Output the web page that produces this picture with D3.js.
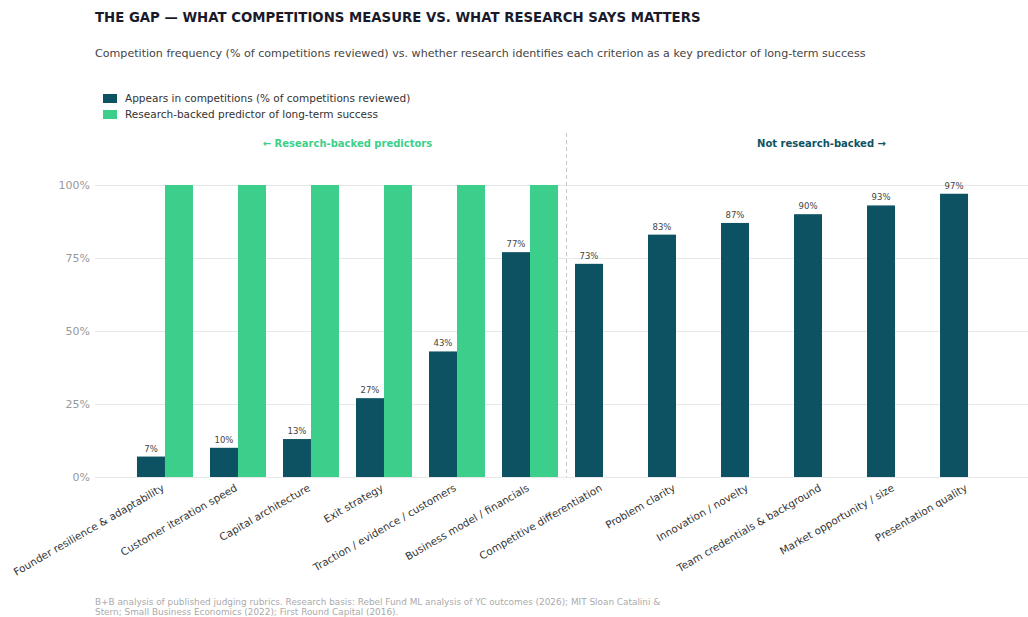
<!DOCTYPE html>
<html>
<head>
<meta charset="utf-8">
<title>The Gap</title>
<script src="https://d3js.org/d3.v7.min.js"></script>
<style>
  body { margin: 0; background: #fff; }
  svg { display: block; font-family: "DejaVu Sans", sans-serif; }
</style>
</head>
<body>
<div id="chart"></div>
<script>
// criteria, in display order
const criteria = [
  "Founder resilience & adaptability",
  "Customer iteration speed",
  "Capital architecture",
  "Exit strategy",
  "Traction / evidence / customers",
  "Business model / financials",
  "Competitive differentiation",
  "Problem clarity",
  "Innovation / novelty",
  "Team credentials & background",
  "Market opportunity / size",
  "Presentation quality"
];
// % of competitions that use the criterion
const competitionPct = [7, 10, 13, 27, 43, 77, 73, 83, 87, 90, 93, 97];
// research-backed predictor (100 = yes, 0 = no)
const researchPct = [100, 100, 100, 100, 100, 100, 0, 0, 0, 0, 0, 0];
const yTicks = [0, 25, 50, 75, 100];
const seriesNames = [
  "Appears in competitions (% of competitions reviewed)",
  "Research-backed predictor of long-term success"
];

const DARK = "#0d5262";
const GREEN = "#3bcf8b";

const width = 1028, height = 617;
const svg = d3.select("#chart").append("svg")
  .attr("width", width).attr("height", height);

const plotTop = 185, plotBottom = 477;
const x = d3.scaleBand().domain(criteria).range([95, 1038])
  .paddingInner(0.233).paddingOuter(0.575);
const sub = d3.scaleBand().domain(["comp", "res"]).range([0, x.bandwidth()]);
const y = d3.scaleLinear().domain([0, 100]).range([plotBottom, plotTop]);

// title + subtitle
svg.append("text").attr("x", 95).attr("y", 22)
  .attr("font-size", 13.3).attr("font-weight", "bold").attr("fill", "#1a1a2a")
  .text("THE GAP — WHAT COMPETITIONS MEASURE VS. WHAT RESEARCH SAYS MATTERS");
svg.append("text").attr("x", 95).attr("y", 57)
  .attr("font-size", 11.1).attr("fill", "#444")
  .text("Competition frequency (% of competitions reviewed) vs. whether research identifies each criterion as a key predictor of long-term success");

// legend
const legend = svg.append("g");
seriesNames.forEach((name, i) => {
  legend.append("rect").attr("x", 103).attr("y", 94 + i * 16)
    .attr("width", 14).attr("height", 9).attr("fill", i === 0 ? DARK : GREEN);
  legend.append("text").attr("x", 125).attr("y", 102 + i * 16)
    .attr("font-size", 10.5).attr("fill", "#333").text(name);
});

// gridlines + y axis
const yAxis = svg.append("g").attr("transform", "translate(95,0)")
  .call(d3.axisLeft(y).tickValues(yTicks).tickFormat(d => d + "%").tickSize(-933).tickPadding(5));
yAxis.select(".domain").remove();
yAxis.selectAll(".tick line").attr("stroke", "#e8e8e8");
yAxis.selectAll(".tick text").attr("font-size", 11).attr("fill", "#999")
  .attr("font-family", "DejaVu Sans, sans-serif");

// divider between groups
const divX = (x(criteria[5]) + x.bandwidth() + x(criteria[6])) / 2;
svg.append("line").attr("x1", divX).attr("x2", divX).attr("y1", 133).attr("y2", plotBottom)
  .attr("stroke", "#c4c8d0").attr("stroke-dasharray", "4,3");

const groupCenter = (a, b) => (x(criteria[a]) + x(criteria[b]) + x.bandwidth()) / 2;
svg.append("text").attr("x", groupCenter(0, 5)).attr("y", 147).attr("text-anchor", "middle")
  .attr("font-size", 10).attr("font-weight", "bold").attr("fill", GREEN)
  .text("← Research-backed predictors");
svg.append("text").attr("x", groupCenter(6, 11) + 36).attr("y", 147).attr("text-anchor", "middle")
  .attr("font-size", 10).attr("font-weight", "bold").attr("fill", DARK)
  .text("Not research-backed →");

// bars
const bars = svg.append("g");
criteria.forEach((c, i) => {
  bars.append("rect")
    .attr("x", x(c) + sub("comp")).attr("width", sub.bandwidth())
    .attr("y", y(competitionPct[i])).attr("height", plotBottom - y(competitionPct[i]))
    .attr("fill", DARK);
  bars.append("rect")
    .attr("x", x(c) + sub("res")).attr("width", sub.bandwidth())
    .attr("y", y(researchPct[i])).attr("height", plotBottom - y(researchPct[i]))
    .attr("fill", GREEN);
  bars.append("text")
    .attr("x", x(c) + sub("comp") + sub.bandwidth() / 2)
    .attr("y", y(competitionPct[i]) - 5)
    .attr("text-anchor", "middle").attr("font-size", 8.5).attr("fill", "#444")
    .text(competitionPct[i] + "%");
});

// x labels
svg.append("g").selectAll("text").data(criteria).join("text")
  .attr("transform", d => `translate(${x(d) + x.bandwidth() / 2},${plotBottom + 13}) rotate(-30)`)
  .attr("text-anchor", "end").attr("font-size", 10.4).attr("fill", "#333")
  .text(d => d);

// source note
const notes = [
  "B+B analysis of published judging rubrics. Research basis: Rebel Fund ML analysis of YC outcomes (2026); MIT Sloan Catalini &",
  "Stern; Small Business Economics (2022); First Round Capital (2016)."
];
notes.forEach((t, i) => {
  svg.append("text").attr("x", 95).attr("y", 605 + i * 9.5)
    .attr("font-size", 8.9).attr("fill", "#aaa").text(t);
});
</script>
</body>
</html>
